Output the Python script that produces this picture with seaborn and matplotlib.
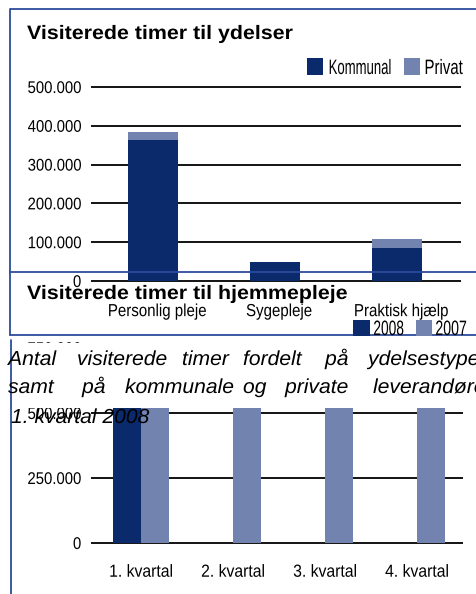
import numpy as np
import pandas as pd
import matplotlib
matplotlib.use("Agg")
import matplotlib.pyplot as plt
import seaborn as sns
from matplotlib.patheffects import AbstractPathEffect
from matplotlib.transforms import Affine2D
from matplotlib.patches import Rectangle

# ---------------- data ----------------
ydelser = ["Personlig pleje", "Sygepleje", "Praktisk hjælp"]
kommunal = [363000, 49000, 85000]
privat = [21000, 0, 23000]

kvartaler = ["1. kvartal", "2. kvartal", "3. kvartal", "4. kvartal"]
timer_2008 = [590000, np.nan, np.nan, np.nan]
timer_2007 = [600000, 585000, 560000, 595000]

title1 = "Visiterede timer til ydelser"
title2 = "Visiterede timer til hjemmepleje"
yticks1 = [0, 100000, 200000, 300000, 400000, 500000]
ytick_labels1 = ["0", "100.000", "200.000", "300.000", "400.000", "500.000"]
yticks3 = [0, 250000, 500000, 750000]
ytick_labels3 = ["0", "250.000", "500.000", "750.000"]
caption_lines = [
    [("Antal", 8), ("visiterede", 77), ("timer", 182), ("fordelt", 243), ("på", 325), ("ydelsestyper,", 368)],
    [("samt", 8), ("på", 82), ("kommunale", 125), ("og", 243), ("private", 285), ("leverandører i", 373)],
    [("1. kvartal 2008", 11)],
]

KOM = "#0b2a6b"
PRIV = "#7283b0"
BORDER = "#2c4c9c"

sns.set_style("white")
plt.rcParams["font.family"] = ["Liberation Sans", "DejaVu Sans"]
plt.rcParams["text.color"] = "black"
plt.rcParams["xtick.color"] = "black"
plt.rcParams["ytick.color"] = "black"
plt.rcParams["xtick.labelcolor"] = "black"
plt.rcParams["ytick.labelcolor"] = "black"


class Squeeze(AbstractPathEffect):
    """Horizontally condense/stretch rendered glyphs (text stays real text)."""
    def __init__(self, sx, anchor="center", dx=0.0):
        super().__init__()
        self.sx = sx
        self.anchor = anchor
        self.dx = dx

    def draw_path(self, renderer, gc, tpath, affine, rgbFace=None):
        ext = tpath.get_extents(affine)
        if self.anchor == "left":
            x0 = ext.x0
        elif self.anchor == "right":
            x0 = ext.x1
        else:
            x0 = 0.5 * (ext.x0 + ext.x1)
        t = affine + Affine2D().translate(-x0, 0).scale(self.sx, 1).translate(x0 + self.dx, 0)
        renderer.draw_path(gc, tpath, t, rgbFace)


W, H = 476, 594
fig = plt.figure(figsize=(W / 100, H / 100), dpi=100)


def box(x0, y_top, x1, y_bot):
    return [x0 / W, 1 - y_bot / H, (x1 - x0) / W, (y_bot - y_top) / H]


# ---------------- chart 3 (bottom, mostly hidden) ----------------
ax3 = fig.add_axes(box(91, 345.4, 463, 545.3))
df3 = pd.DataFrame({
    "kvartal": kvartaler * 2,
    "aar": ["2008"] * 4 + ["2007"] * 4,
    "timer": timer_2008 + timer_2007,
})
sns.barplot(data=df3, x="kvartal", y="timer", hue="aar", hue_order=["2008", "2007"],
            palette=[KOM, PRIV], saturation=1, width=0.6, errorbar=None,
            legend=False, ax=ax3, zorder=3, linewidth=0, edgecolor="none")
ax3.set_xlim(-0.5435, 3.5)
ax3.set_ylim(-9000, 760000)
ax3.set_yticks(yticks3)
ax3.set_yticklabels(ytick_labels3)
ax3.yaxis.grid(True, color="black", lw=1.3)
ax3.xaxis.grid(False)
ax3.set_axisbelow(True)
for s in ax3.spines.values():
    s.set_visible(False)
ax3.set_xlabel("")
ax3.set_ylabel("")
ax3.tick_params(axis="y", length=0, pad=7, labelsize=12.2, labelcolor="black")
ax3.tick_params(axis="x", length=0, pad=14, labelsize=12.6, labelcolor="black")
for t in ax3.get_yticklabels():
    t.set_path_effects([Squeeze(0.88, "right")])
for t in ax3.get_xticklabels():
    t.set_path_effects([Squeeze(0.9, "center")])

# ---------------- chart 1 (top) ----------------
ax1 = fig.add_axes(box(91, 85.06, 461, 283.3))
totals = [k + p for k, p in zip(kommunal, privat)]
sns.barplot(x=ydelser, y=totals, color=PRIV, saturation=1, width=0.41,
            errorbar=None, ax=ax1, zorder=3, linewidth=0, edgecolor="none")
sns.barplot(x=ydelser, y=kommunal, color=KOM, saturation=1, width=0.41,
            errorbar=None, ax=ax1, zorder=3, linewidth=0, edgecolor="none")
ax1.set_xlim(-0.508, 2.525)
ax1.set_ylim(-6000, 505000)
ax1.set_yticks(yticks1)
ax1.set_yticklabels(ytick_labels1)
ax1.yaxis.grid(True, color="black", lw=1.3)
ax1.xaxis.grid(False)
ax1.set_axisbelow(True)
for s in ax1.spines.values():
    s.set_visible(False)
ax1.set_xlabel("")
ax1.set_ylabel("")
ax1.patch.set_alpha(0)
ax1.tick_params(axis="y", length=0, pad=7, labelsize=12.2, labelcolor="black")
ax1.tick_params(axis="x", length=0, pad=15, labelsize=12.6, labelcolor="black")
for t in ax1.get_yticklabels():
    t.set_path_effects([Squeeze(0.88, "right")])
for t in ax1.get_xticklabels():
    t.set_path_effects([Squeeze(0.86, "center", dx=4)])

# ---------------- overlay (page elements) ----------------
ov = fig.add_axes([0, 0, 1, 1])
ov.set_xlim(0, W)
ov.set_ylim(H, 0)
ov.axis("off")
ov.set_zorder(5)

# white caption background covering the chart below
ov.add_patch(Rectangle((0, 343), W, 65, facecolor="white", edgecolor="none", zorder=1))

lw = 1.3
# box 1 / box 2 borders
ov.plot([10, W], [9, 9], color=BORDER, lw=lw, zorder=2, solid_capstyle="butt")
ov.plot([10, 10], [9, 335], color=BORDER, lw=lw, zorder=2)
ov.plot([10, W], [272, 272], color=BORDER, lw=lw, zorder=2)
ov.plot([10, W], [335, 335], color=BORDER, lw=lw, zorder=2)
# box 3 left border
ov.plot([11, 11], [340, H], color=BORDER, lw=lw, zorder=2)

# titles
ov.text(27, 39, title1, fontsize=14, fontweight="bold", ha="left", va="baseline",
        color="black", zorder=4, path_effects=[Squeeze(1.1, "left")])
ov.text(27, 299, title2, fontsize=14, fontweight="bold", ha="left", va="baseline",
        color="black", zorder=4, path_effects=[Squeeze(1.1, "left")])

# legend chart 1
ov.add_patch(Rectangle((307, 58), 16, 17, facecolor=KOM, edgecolor="none", zorder=3))
ov.text(328, 74, "Kommunal", fontsize=15, ha="left", va="baseline", zorder=4,
        color="black", path_effects=[Squeeze(0.63, "left")])
ov.add_patch(Rectangle((404, 58), 16, 17, facecolor=PRIV, edgecolor="none", zorder=3))
ov.text(424, 74, "Privat", fontsize=15, ha="left", va="baseline", zorder=4,
        color="black", path_effects=[Squeeze(0.72, "left")])

# legend chart 2
ov.add_patch(Rectangle((353, 320), 17, 16, facecolor=KOM, edgecolor="none", zorder=3))
ov.text(373, 335, "2008", fontsize=15, ha="left", va="baseline", zorder=4,
        color="black", path_effects=[Squeeze(0.66, "left")])
ov.add_patch(Rectangle((416, 320), 16, 16, facecolor=PRIV, edgecolor="none", zorder=3))
ov.text(435, 335, "2007", fontsize=15, ha="left", va="baseline", zorder=4,
        color="black", path_effects=[Squeeze(0.68, "left")])

# caption (justified words)
baselines = [365, 393, 423]
for line, yb in zip(caption_lines, baselines):
    for word, xw in line:
        ov.text(xw, yb, word, fontsize=14.6, fontstyle="italic", ha="left",
                va="baseline", color="black", zorder=4,
                path_effects=[Squeeze(1.04, "left")])

fig.savefig("out.png", dpi=100)
